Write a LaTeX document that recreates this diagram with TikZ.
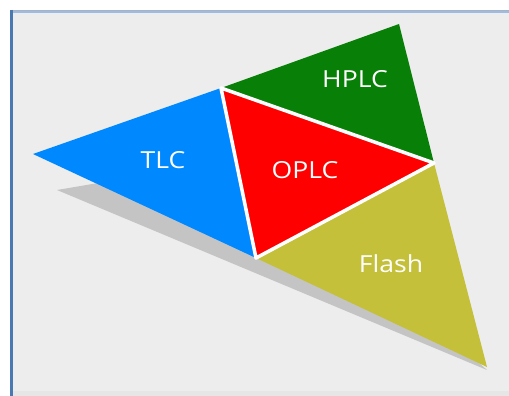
\documentclass[tikz,border=0pt]{standalone}
\usepackage{fontspec}
\setmainfont{Open Sans}
\newfontfamily\labelfont[FakeStretch=1.13]{Open Sans}
\definecolor{panelbg}{HTML}{EDEDED}
\definecolor{paneledge}{HTML}{E6E6E6}
\definecolor{frameleft}{HTML}{4A78B0}
\definecolor{frametop}{HTML}{9DBBE4}
\definecolor{frametopdark}{HTML}{A8B3C0}
\definecolor{shadowgray}{HTML}{C4C4C4}
\definecolor{tlcblue}{HTML}{0088FF}
\definecolor{oplcred}{HTML}{FF0000}
\definecolor{hplcgreen}{HTML}{088008}
\definecolor{flasholive}{HTML}{C4C03A}
\tikzset{
  piece/.style={draw=none},
  centre/.style={piece, draw=white, line width=3.5pt, line join=round},
  label/.style={text=white, font=\labelfont\fontsize{23.5}{26}\selectfont, inner sep=0pt}
}
\begin{document}
\begin{tikzpicture}[x=1pt, y=-1pt]
  \useasboundingbox (0,0) rectangle (509,396);
  % window panel
  \fill[white] (0,0) rectangle (509,396);
  \fill[panelbg] (11,12) rectangle (509,396);
  \fill[paneledge] (11,391) rectangle (509,396);
  \draw[frametopdark, line width=1pt] (11,10.5) -- (509,10.5);
  \draw[frametop, line width=1.6pt] (11,12.3) -- (509,12.3);
  \draw[frameleft, line width=2.5pt] (11.5,10) -- (11.5,396);
  % corner points of the central triangle
  \coordinate (a) at (221,88);
  \coordinate (b) at (434,163);
  \coordinate (c) at (256,258);
  % drop shadow under the group
  \fill[shadowgray] (57,190) -- (110,181) -- (250,240) -- (470,355) -- (487,370) -- cycle;
  % outer triangles
  \fill[tlcblue, piece] (33,154) -- (a) -- (c) -- cycle;
  \fill[hplcgreen, piece] (a) -- (399,24) -- (b) -- cycle;
  \fill[flasholive, piece] (b) -- (487,367) -- (c) -- cycle;
  % central triangle with its white seam
  \filldraw[fill=oplcred, centre] (a) -- (b) -- (c) -- cycle;
  % labels
  \node[label] (tlc) at (163,160) {TLC};
  \node[label] (oplc) at (305,170.5) {OPLC};
  \node[label] (hplc) at (355,79) {HPLC};
  \node[label] (flash) at (391,264) {Flash};
\end{tikzpicture}
\end{document}
